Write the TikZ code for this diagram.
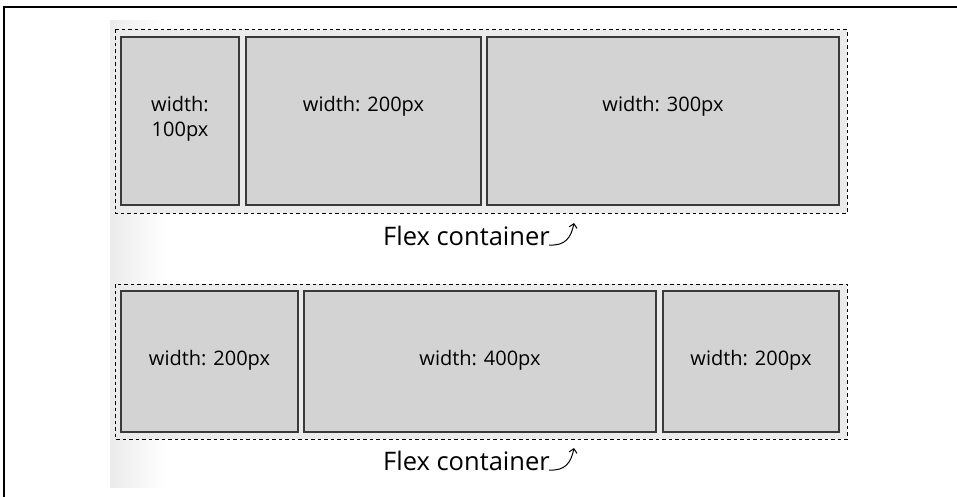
\documentclass[tikz,border=0pt]{standalone}
\usepackage{fontspec}
\setmainfont{Open Sans}
\usetikzlibrary{arrows.meta}
\definecolor{boxfill}{HTML}{D3D3D3}
\definecolor{contfill}{HTML}{EBEBEB}
\definecolor{boxline}{HTML}{3A3A3A}
\begin{document}
\begin{tikzpicture}[x=1pt,y=-1pt,
  flexitem/.style={draw=boxline,fill=boxfill,line width=1.3pt},
  flexcont/.style={draw=black,fill=contfill,dashed,dash pattern=on 3.5pt off 3pt,line width=1pt},
  itemtext/.style={font=\fontsize{20}{24}\selectfont,align=center,inner sep=0pt},
  captext/.style={font=\fontsize{25.5}{30}\selectfont,inner sep=0pt,anchor=base west},
  curlarrow/.style={line width=1pt,-{Straight Barb[length=4pt,width=8pt]}}]
\useasboundingbox (0,0) rectangle (957,497);
\fill[white] (0,0) rectangle (957,497);
% faint gradient panel
\shade[left color=black!8,right color=white] (110,21) rectangle (165,487);
\fill[white] (165,21) rectangle (870,487);
% outer frame
\draw[line width=1.6pt] (4,497) -- (4,7) -- (957,7);
% top container
\path[flexcont] (115,30) rectangle (847,213);
\path[flexitem] (121,37) rectangle (239,205);
\path[flexitem] (246,37) rectangle (481,205);
\path[flexitem] (487,37) rectangle (839,205);
\node[itemtext] (t1) at (180,119) {width:\\[1pt]100px};
\node[itemtext] (t2) at (363.5,106) {width: 200px};
\node[itemtext] (t3) at (663,106) {width: 300px};
\node[captext] (c1) at (383,245) {Flex container};
\coordinate (c1s) at (549,245);
\coordinate (c1e) at (574,223);
\draw[curlarrow] (c1s) .. controls (565,246) and (571,238) .. (c1e);
% bottom container
\path[flexcont] (115,284) rectangle (847,439);
\path[flexitem] (121,291) rectangle (298,432);
\path[flexitem] (304,291) rectangle (656,432);
\path[flexitem] (663,291) rectangle (839,432);
\node[itemtext] (t4) at (209.5,360) {width: 200px};
\node[itemtext] (t5) at (480,360) {width: 400px};
\node[itemtext] (t6) at (751,360) {width: 200px};
\node[captext] (c2) at (383,470) {Flex container};
\coordinate (c2s) at (549,470);
\coordinate (c2e) at (574,448);
\draw[curlarrow] (c2s) .. controls (565,471) and (571,463) .. (c2e);
\end{tikzpicture}
\end{document}
